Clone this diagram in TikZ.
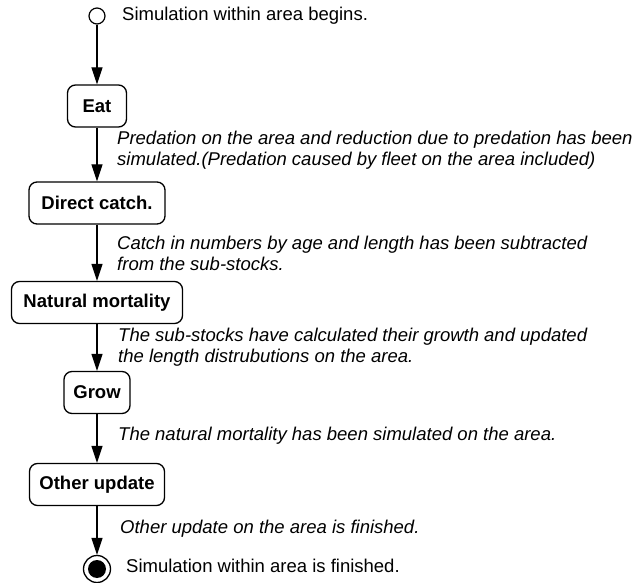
\documentclass[tikz,border=0pt]{standalone}
\usepackage{fontspec}
\setmainfont{Liberation Sans}
\usetikzlibrary{arrows.meta, positioning}

\begin{document}
\begin{tikzpicture}[x=1pt, y=-1pt,
  state/.style={draw, rounded corners=8pt, line width=1.3pt, minimum height=42pt,
                inner sep=0pt, font=\fontsize{18.5}{22}\selectfont\bfseries},
  note/.style={anchor=west, inner sep=0pt, align=left,
               font=\fontsize{18.5}{21}\selectfont\itshape},
  plain/.style={anchor=west, inner sep=0pt, font=\fontsize{18.5}{21}\selectfont},
  flow/.style={-{Triangle[length=17pt, width=11pt]}, line width=1.3pt}]
  \useasboundingbox (0,0) rectangle (638,583);
  % Start und Ende
  \node[circle, draw, line width=1.2pt, minimum size=16pt, inner sep=0pt] (start) at (97,16) {};
  \node[plain] (startlbl) at (122,16) {Simulation within area begins.};
  \node[circle, draw, line width=1.3pt, minimum size=27pt, inner sep=0pt] (stop) at (97,569) {};
  \node[circle, fill, minimum size=18pt, inner sep=0pt] (stopdot) at (stop) {};
  \node[plain] (stoplbl) at (126,566) {Simulation within area is finished.};
  % Zustaende
  \node[state, minimum width=59pt] (eat) at (97,106) {Eat};
  \node[state, minimum width=136pt] (catch) at (97,203) {Direct catch.};
  \node[state, minimum width=171pt] (mort) at (97,302.5) {Natural mortality};
  \node[state, minimum width=66pt] (grow) at (97,392.5) {Grow};
  \node[state, minimum width=135pt] (other) at (97,484.5) {Other update};
  % Uebergaenge
  \draw[flow] (start) -- (eat);
  \draw[flow] (eat) -- (catch);
  \draw[flow] (catch) -- (mort);
  \draw[flow] (mort) -- (grow);
  \draw[flow] (grow) -- (other);
  \draw[flow] (other) -- (stop);
  % Beschriftungen
  \node[note] (eatlbl) at (117,150) {Predation on the area and reduction due to predation has been\\simulated.(Predation caused by fleet on the area included)};
  \node[note] (catchlbl) at (117,253) {Catch in numbers by age and length has been subtracted\\from the sub-stocks.};
  \node[note] (mortlbl) at (118,347.5) {The sub-stocks have calculated their growth and updated\\the length distrubutions on the area.};
  \node[note] (growlbl) at (118,436) {The natural mortality has been simulated on the area.};
  \node[note] (otherlbl) at (120,529) {Other update on the area is finished.};
\end{tikzpicture}
\end{document}
